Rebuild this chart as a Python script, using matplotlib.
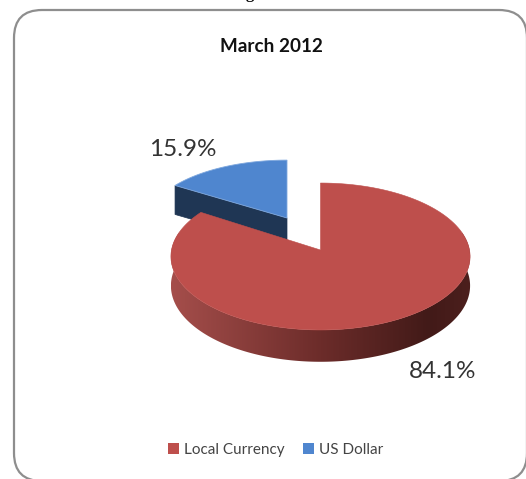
import numpy as np
import matplotlib
matplotlib.use("Agg")
import matplotlib.pyplot as plt
from matplotlib.colors import LinearSegmentedColormap
from matplotlib.patches import FancyBboxPatch, Patch, Polygon

title = "March 2012"
categories = ["Local Currency", "US Dollar"]
shares = [84.1, 15.9]
colors = ["#BE4F4C", "#4F86CF"]

plt.rcParams["font.family"] = ["Lato", "DejaVu Sans"]


# tilted disc, slightly foreshortened towards the back
def project(theta, x0, y0, a, b, p=0.0884):
    u = np.sin(theta)
    v = np.cos(theta)
    k = 1 + p * v
    return x0 + b * u / k, y0 - a * v / k


def wedge_top(start, end, x0, y0, a, b):
    t = np.linspace(start, end, 200)
    x, y = project(t, x0, y0, a, b)
    return np.vstack([[x0, y0], np.column_stack([x, y])])


fig = plt.figure(figsize=(5.26, 4.79), dpi=100)
ax = fig.add_axes([0, 0, 1, 1])
ax.axis("off")

# chart frame, runs off the right and bottom edge
ax.add_patch(FancyBboxPatch((14, 10), 513, 471, boxstyle="round,pad=0,rounding_size=28",
                            fc="white", ec="#8E8E8E", lw=1.6, zorder=1))

sweep = 2 * np.pi * shares[0] / 100

# pulled out slice: side first, then the top face
bx, by, ba, bb = 287, 218, 63, 139.5
depth_b = 29
lx, ly = project(sweep, bx, by, ba, bb)
ax.add_patch(Polygon([(bx, by), (lx, ly), (lx, ly + depth_b), (bx, by + depth_b)],
                     fc="#1F3654", ec="#1F3654", lw=0.5, zorder=2))
ax.add_patch(Polygon(wedge_top(sweep, 2 * np.pi, bx, by, ba, bb),
                     fc=colors[1], ec="#7FA8DE", lw=0.6, zorder=3))

# main slice: gradient image clipped to the rim outline
rx, ry, ra, rb = 320.5, 250, 72.9, 149
depth_r = 29
cmap = LinearSegmentedColormap.from_list(
    "rim", [(0, "#A54E4B"), (0.5, "#6C2C2A"), (0.86, "#421A18"), (1, "#4C1F1D")])
t = np.linspace(np.pi / 2 - 0.25, 3 * np.pi / 2 + 0.25, 260)
x, y = project(t, rx, ry, ra, rb)
d = depth_r / (1 + 0.0884 * np.cos(t))
rim = Polygon(np.vstack([np.column_stack([x, y]), np.column_stack([x, y + d])[::-1]]),
              fc="none", ec="none", transform=ax.transData)
ax.add_patch(rim)
ramp = np.linspace(0, 1, 256).reshape(1, -1)
img = ax.imshow(ramp, cmap=cmap, extent=(x.min(), x.max(), 400, 200), aspect="auto", zorder=4)
img.set_clip_path(rim)
ax.add_patch(Polygon(wedge_top(0, sweep, rx, ry, ra, rb), fc=colors[0], ec=colors[0], lw=0.4, zorder=5))

ax.set_xlim(0, 526)
ax.set_ylim(479, 0)

ax.text(271.5, 46, title, ha="center", va="center", fontsize=13.6, fontweight="bold", color="#111111", zorder=6)
ax.text(250, -6, "g", ha="center", va="center", fontsize=12, fontweight="bold",
        family="Liberation Serif", color="black", zorder=6)

ax.text(183, 149, f"{shares[1]}%", ha="center", va="center", fontsize=17.5, color="#333333", zorder=6)
ax.text(442.5, 372, f"{shares[0]}%", ha="center", va="center", fontsize=17.5, color="#333333", zorder=6)

handles = [Patch(fc=c, ec="none") for c in colors]
ax.legend(handles, categories, loc="center", bbox_to_anchor=(275.5 / 526, 1 - 450 / 479), ncol=2,
          frameon=False, fontsize=11, handlelength=0.7, handleheight=0.7, handletextpad=0.35,
          columnspacing=1.2, labelcolor="#444444")

fig.savefig("out.png", dpi=100)
